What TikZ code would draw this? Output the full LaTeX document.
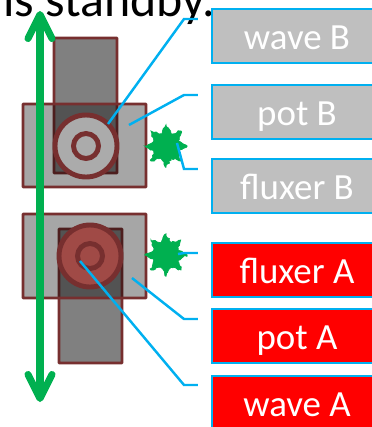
\documentclass[tikz,border=0pt]{standalone}
\usepackage{fontspec}
\setmainfont{Carlito}
\usetikzlibrary{arrows.meta, shapes.geometric, decorations.pathmorphing}
\definecolor{wireblue}{HTML}{00B0F0}
\definecolor{flakegreen}{HTML}{00B050}
\definecolor{rimbrown}{HTML}{772F2F}
\definecolor{potred}{HTML}{A04A46}
\tikzset{
  labelbox/.style={draw=wireblue, line width=1.6pt, text=white, font=\fontsize{21}{21}\selectfont,
    minimum width=3.4cm, minimum height=1.08cm, inner sep=0pt, text height=.52cm, text depth=0pt},
  wire/.style={draw=wireblue, line width=1.4pt},
  plate/.style={draw=rimbrown, line width=1.5pt, fill=black, fill opacity=.35, rounded corners=.3pt},
  tower/.style={draw=rimbrown, line width=1.5pt, fill=black!50, rounded corners=.3pt},
  ring/.style={draw=rimbrown, line width=2.8pt},
  flake/.style={star, star points=8, star point ratio=1.6, minimum size=0.85cm, inner sep=0pt,
    fill=flakegreen, draw=flakegreen, decorate, decoration={random steps, segment length=1.3pt, amplitude=.6pt}}
}
\begin{document}
\begin{tikzpicture}[x=0.02cm, y=-0.02cm, >={Straight Barb[length=0.48cm, width=0.48cm, round]}]
  \pgfmathsetseed{7}
  \clip (0,0) rectangle (372,427);
  \node (standby) at (109,3) [font=\fontsize{28.4}{28.4}\selectfont, inner sep=0pt] {is standby.};
  % B side
  \draw [tower] (54,38) rectangle (117,173);
  \draw [plate] (23,104) rectangle (146,187);
  \draw [ring, fill=black!33] (86,146) circle [radius =31];
  \draw [ring, fill=black!33] (86,146) circle [radius =12.5];
  \node (flakeB) at (166,146) [flake] {};
  % A side
  \draw [tower] (59,229) rectangle (122,363);
  \draw [plate] (23,214) rectangle (146,298);
  \draw [ring, fill=potred] (90,256) circle [radius =31];
  \draw [ring, fill=potred] (90,256) circle [radius =12.5];
  \node (flakeA) at (166,255) [flake] {};
  % labels
  \node (waveB) at (297,36) [labelbox, fill=black!25] {wave B};
  \node (potB) at (297,112) [labelbox, fill=black!25] {pot B};
  \node (fluxerB) at (297,186) [labelbox, fill=black!25] {fluxer B};
  \node (fluxerA) at (297,270) [labelbox, fill=red] {fluxer A};
  \node (potA) at (297,336) [labelbox, fill=red] {pot A};
  \node (waveA) at (297,403) [labelbox, fill=red] {wave A};
  % free ends
  \coordinate (waveBpt) at (108,124);
  \coordinate (potBpt) at (129,125);
  \coordinate (fluxerBpt) at (177,143);
  \coordinate (fluxerApt) at (178,254);
  \coordinate (potApt) at (132,278);
  \coordinate (waveApt) at (80,261);
  \draw [wire] (waveBpt) -- (184,19) -- (198,19);
  \draw [wire] (potBpt) -- (184,95) -- (198,95);
  \draw [wire] (fluxerBpt) -- (184,169) -- (198,169);
  \draw [wire] (fluxerApt) -- (184,253) -- (198,253);
  \draw [wire] (potApt) -- (184,319) -- (198,319);
  \draw [wire] (waveApt) -- (184,385) -- (198,385);
  % green arrow
  \coordinate (arrowtop) at (40,11);
  \coordinate (arrowbot) at (40,402);
  \draw [<->, flakegreen, line width=4pt] (arrowtop) -- (arrowbot);
\end{tikzpicture}
\end{document}
